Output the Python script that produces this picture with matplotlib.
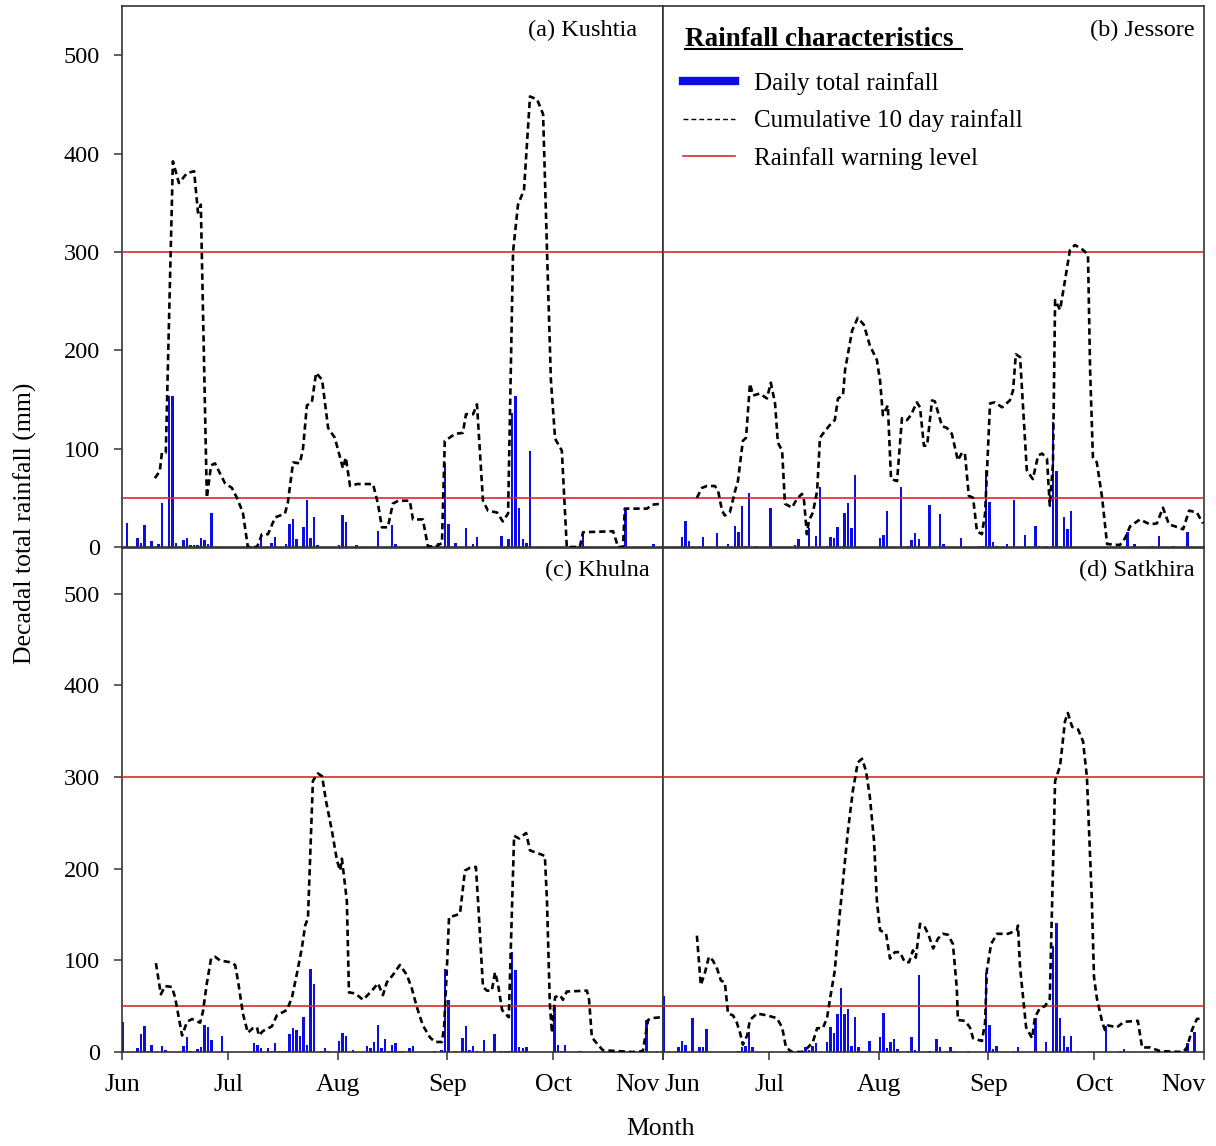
import matplotlib
matplotlib.use("Agg")
import matplotlib.pyplot as plt
from matplotlib.lines import Line2D
from matplotlib.transforms import ScaledTranslation

# days counted from 1 June
month_days = [0, 30, 61, 92, 122, 153]
month_labels = ["Jun", "Jul", "Aug", "Sep", "Oct", "Nov"]
warning_levels = [50, 300]

# (a) Kushtia
kus_bar_day = [1, 4, 5, 6, 8, 10, 11, 13, 14, 15, 17, 18, 19, 20, 21, 22, 23, 24, 25,
               39, 42, 43, 46, 47, 48, 49, 51, 52, 53, 54, 55, 61, 62, 63, 66, 72, 76, 77,
               89, 91, 92, 94, 97, 99, 100, 107, 109, 110, 111, 112, 113, 114, 115,
               130, 142, 150]
kus_bar_mm = [24, 9, 4, 22, 6, 3, 45, 153, 153, 4, 7, 9, 2, 2, 2, 9, 7, 3, 35,
              13, 4, 10, 3, 23, 28, 8, 20, 48, 9, 30, 2, 2, 33, 25, 2, 16, 22, 3,
              4, 85, 23, 4, 19, 3, 10, 11, 8, 136, 153, 40, 8, 4, 98,
              15, 39, 3]
kus_cum_day = [9.3, 10.7, 11.3, 12.4, 14.4, 16.1, 18.4, 20.4, 21.5, 22.3, 24.0, 25.2, 26.3,
               29.1, 31.1, 32.5, 34.2, 35.6, 38.2, 39.6, 41.3, 43.3, 46.1, 46.9, 48.4, 50.3,
               51.2, 52.3, 53.7, 54.9, 56.6, 58.3, 60.2, 62.5, 63.3, 64.5, 66.5, 71.0, 72.4,
               73.5, 75.2, 76.6, 78.1, 81.4, 82.3, 85.1, 86.5, 88.5, 90.5, 91.3, 92.2, 94.2,
               96.4, 97.3, 99.3, 100.4, 102.1, 103.5, 106.1, 107.7, 109.2, 110.6, 112.0,
               113.7, 115.4, 117.4, 119.1, 120.2, 121.3, 122.5, 124.4, 125.8, 129.5, 130.4,
               138.9, 140.3, 141.7, 142.2, 148.5, 149.9, 152.7]
kus_cum_mm = [70, 77, 96, 96, 392, 370, 380, 382, 340, 348, 50, 83, 85,
              65, 60, 50, 35, 0, 0, 13, 13, 30, 34, 45, 86, 85,
              100, 144, 147, 177, 170, 121, 111, 80, 91, 62, 64, 64, 44,
              20, 20, 44, 47, 47, 28, 28, 1, 0, 4, 108, 110, 115,
              116, 135, 135, 145, 47, 37, 35, 26, 34, 300, 348,
              363, 458, 455, 440, 302, 170, 110, 98, 0, 0, 15,
              16, 0, 0, 39, 39, 43, 44]

# (b) Jessore
jes_bar_day = [5, 6, 7, 11, 15, 18, 20, 21, 22, 23, 24, 26, 30, 37, 38, 41, 43, 44, 46, 47,
               48, 49, 51, 52, 53, 54, 61, 62, 63, 67, 69, 70, 71, 72, 75, 78, 79, 84, 89,
               90, 91, 92, 93, 94, 97, 99, 102, 105, 106, 108, 110, 111, 112, 113, 114,
               115, 131, 133, 138, 140, 144, 148]
jes_bar_mm = [10, 26, 6, 10, 14, 3, 21, 15, 42, 1, 55, 0.5, 40, 2, 8, 19, 11, 61, 1, 10,
              9, 20, 35, 45, 19, 73, 9, 12, 37, 61, 0.5, 7, 14, 8, 43, 34, 3, 9, 0.5,
              1, 78, 46, 5, 1, 3, 48, 12, 21, 0.5, 0.5, 127, 77, 0.5, 30, 18,
              37, 15, 3, 0.5, 11, 1, 15]
jes_cum_day = [9.6, 11.0, 12.4, 14.7, 15.6, 16.7, 17.5, 18.9, 20.4, 21.2, 22.6, 23.5, 24.6,
               25.5, 27.4, 29.4, 30.5, 31.7, 32.5, 33.7, 34.5, 36.5, 37.9, 39.3, 39.9, 40.7,
               41.3, 42.4, 43.6, 44.4, 45.2, 47.2, 48.6, 49.5, 50.9, 51.5, 53.5, 55.1, 56.8,
               58.5, 60.5, 61.4, 62.2, 63.6, 64.5, 66.2, 67.6, 69.0, 70.1, 71.8, 72.7, 73.8,
               74.7, 76.1, 76.9, 78.9, 80.3, 81.7, 83.4, 84.6, 85.4, 86.5, 87.7, 88.8, 90.2,
               91.1, 92.5, 93.9, 95.9, 98.1, 99.0, 99.8, 101.0, 102.9, 104.6, 106.1, 107.2,
               108.6, 109.4, 110.3, 110.9, 112.3, 113.7, 115.1, 116.5, 118.8, 120.2, 120.8,
               121.6, 122.7, 124.2, 125.6, 129.2, 130.7, 132.1, 134.9, 137.7, 139.7, 141.4,
               143.1, 144.8, 147.1, 148.8, 151.0, 152.7]
jes_cum_mm = [50, 60, 62, 62, 57, 37, 32, 35, 57, 67, 108, 111, 166,
              154, 156, 151, 167, 146, 106, 98, 44, 40, 49, 54, 47, 13,
              27, 35, 57, 111, 115, 124, 129, 151, 154, 180, 220, 233, 226,
              205, 190, 169, 134, 144, 69, 67, 131, 129, 134, 147, 142, 103,
              103, 149, 148, 123, 121, 115, 88, 96, 95, 52, 50, 16, 13,
              34, 146, 147, 142, 149, 159, 196, 193, 78, 69, 93, 95,
              90, 42, 85, 251, 241, 271, 302, 307, 302, 297, 180,
              91, 86, 50, 3, 2, 9, 21, 28, 23, 24, 40,
              23, 21, 18, 37, 35, 24]

# (c) Khulna
khu_bar_day = [0, 4, 5, 6, 7, 8, 11, 12, 17, 18, 19, 21, 22, 23, 24, 25, 28, 37, 38, 39,
               41, 42, 43, 44, 45, 46, 47, 48, 49, 50, 51, 52, 53, 54, 56, 57, 58, 61, 62,
               63, 65, 69, 70, 71, 72, 73, 74, 75, 76, 77, 78, 79, 81, 82, 88, 90, 91, 92,
               94, 96, 97, 98, 99, 100, 102, 105, 107, 108, 109, 110, 111, 112, 113, 114,
               122, 123, 124, 125, 129, 148, 151]
khu_bar_mm = [33, 4, 20, 28, 1, 8, 7, 2, 7, 16, 1, 3, 6, 29, 27, 13, 18, 10, 8, 4,
              4, 1, 10, 1, 1, 1, 20, 26, 24, 17, 38, 8, 91, 74, 1, 4, 1, 12, 21,
              18, 2, 7, 4, 11, 29, 4, 14, 1, 8, 10, 1, 1, 4, 7, 1, 2, 91, 57,
              1, 15, 28, 2, 7, 1, 13, 20, 1, 1, 1, 109, 89, 6, 4, 6,
              49, 8, 1, 8, 1, 35, 1]
khu_cum_day = [9.6, 11.0, 12.2, 14.1, 15.0, 17.0, 18.4, 19.8, 22.1, 22.9, 24.0, 25.2, 26.3,
               27.7, 30.5, 32.0, 32.8, 34.2, 35.6, 37.0, 38.2, 38.7, 39.9, 42.4, 43.8, 46.7,
               48.1, 49.5, 50.9, 51.8, 52.6, 54.0, 55.4, 56.6, 57.7, 59.4, 60.8, 61.7, 62.2,
               63.6, 64.2, 65.9, 68.2, 70.7, 72.4, 73.8, 74.9, 76.6, 78.6, 80.6, 82.0, 83.4,
               85.1, 87.1, 88.5, 90.5, 91.1, 91.9, 92.5, 94.2, 95.6, 97.0, 98.4, 100.1, 100.7,
               102.1, 103.2, 104.6, 105.5, 106.3, 107.5, 108.3, 109.4, 110.9, 112.3, 114.3,
               115.4, 117.6, 119.6, 120.2, 121.0, 121.6, 121.9, 122.5, 123.9, 124.7, 125.8,
               131.5, 132.1, 132.9, 134.6, 136.0, 144.5, 147.3, 148.8, 149.9, 152.7]
khu_cum_mm = [97, 63, 72, 71, 60, 18, 33, 36, 32, 44, 75, 102, 104,
              100, 98, 95, 78, 42, 21, 26, 27, 18, 23, 28, 40, 46,
              60, 86, 114, 138, 146, 296, 304, 301, 274, 241, 209, 198, 211,
              165, 65, 64, 57, 67, 75, 62, 76, 84, 95, 84, 69, 49,
              29, 16, 11, 11, 27, 92, 147, 149, 151, 198, 201, 202, 165,
              71, 67, 67, 87, 75, 46, 42, 38, 236, 233, 239,
              220, 217, 214, 165, 53, 21, 35, 60, 62, 57, 66,
              67, 57, 16, 8, 2, 0, 1, 35, 37, 38]

# (d) Satkhira
sat_bar_day = [0, 4, 5, 6, 8, 10, 11, 12, 18, 21, 22, 23, 24, 25, 40, 41, 42, 43, 46, 47,
               48, 49, 50, 51, 52, 53, 54, 55, 56, 58, 61, 62, 63, 64, 65, 66, 69, 70, 71,
               72, 75, 77, 78, 80, 81, 82, 86, 91, 92, 93, 94, 99, 100, 105, 108, 110, 111,
               112, 113, 114, 115, 117, 125, 129, 130, 148, 150]
sat_bar_mm = [61, 6, 12, 8, 37, 6, 6, 25, 0.5, 1, 6, 7, 22, 6, 6, 2, 7, 10, 11, 27,
              21, 42, 70, 42, 47, 7, 38, 6, 1, 12, 16, 43, 4, 11, 14, 3, 1, 16, 2,
              84, 1, 14, 6, 1, 6, 1, 1, 86, 29, 3, 7, 1, 6, 37, 11, 116, 141,
              37, 18, 6, 18, 1, 28, 1, 3, 10, 22]
sat_cum_day = [9.6, 10.7, 11.9, 13.0, 14.1, 15.3, 16.4, 17.5, 18.4, 19.8, 20.9, 21.8, 22.6,
               23.8, 24.6, 26.6, 29.4, 32.2, 33.7, 34.8, 36.5, 39.3, 41.0, 42.4, 43.6, 45.2,
               46.4, 47.2, 48.6, 49.8, 52.3, 53.7, 55.1, 56.3, 57.4, 58.5, 59.7, 60.5, 61.4,
               63.1, 64.2, 65.6, 67.0, 68.4, 69.6, 70.7, 71.5, 72.7, 74.1, 75.2, 76.4, 77.8,
               79.2, 80.6, 82.0, 83.1, 83.4, 85.4, 86.8, 87.7, 90.2, 91.1, 91.6, 92.8, 94.5,
               97.6, 100.1, 100.4, 101.0, 102.7, 104.4, 105.2, 106.6, 108.0, 109.4, 110.9,
               112.3, 113.7, 114.5, 115.7, 117.4, 118.8, 119.9, 121.3, 121.9, 122.7, 124.2,
               125.0, 125.9, 128.4, 130.4, 134.3, 135.5, 137.7, 140.6, 147.1, 148.2, 149.6,
               151.0, 152.4]
sat_cum_mm = [127, 73, 87, 104, 100, 91, 78, 76, 42, 40, 32, 21, 8,
              18, 35, 42, 40, 37, 27, 5, 0, 0, 5, 11, 26, 26,
              37, 57, 89, 143, 241, 285, 316, 320, 307, 279, 230, 165, 133,
              129, 102, 109, 109, 98, 98, 111, 103, 140, 136, 127, 113, 124,
              129, 128, 118, 70, 35, 34, 27, 15, 12, 32, 89, 118, 129,
              129, 133, 138, 92, 27, 15, 38, 48, 50, 58, 296,
              312, 361, 370, 355, 352, 339, 300, 165, 82, 59, 33,
              24, 29, 27, 33, 34, 5, 5, 1, 0, 5, 24,
              36, 37]

BAR_COLOR = "#0c0ce6"
WARN_COLOR = "#d42c2c"
SPINE_COLOR = "#333333"


def nudge(label, dx_px, fig):
    label.set_transform(label.get_transform()
                        + ScaledTranslation(dx_px / 100, 0, fig.dpi_scale_trans))


def draw_panel(fig, ax, bar_day, bar_mm, cum_day, cum_mm, title, title_x, left_col, bottom_row):
    ax.bar(bar_day, bar_mm, width=0.7, align="edge", color=BAR_COLOR, linewidth=0, zorder=2)
    for lvl in warning_levels:
        ax.axhline(lvl, color=WARN_COLOR, linewidth=1.2, zorder=3)
    ax.plot(cum_day, cum_mm, color="black", linewidth=1.9,
            linestyle=(0, (2.4, 1.5)), zorder=4)

    ax.set_xlim(0, 153)
    ax.set_ylim(0, 550)
    ax.set_xticks(month_days)
    ax.set_yticks([0, 100, 200, 300, 400, 500])

    for s in ax.spines.values():
        s.set_color(SPINE_COLOR)
        s.set_linewidth(1.2)

    ax.tick_params(direction="out", length=6, width=1.1, colors=SPINE_COLOR,
                   labelcolor="black", labelsize=17.5)
    ax.tick_params(axis="y", pad=10)
    ax.tick_params(axis="x", pad=10, labelsize=18.5)

    if not left_col:
        ax.tick_params(axis="y", left=False, labelleft=False)
    if bottom_row:
        labels = ax.set_xticklabels(month_labels)
        labels[-1].set_ha("right")
        if left_col:
            nudge(labels[-1], -3, fig)
        else:
            labels[0].set_ha("left")
            nudge(labels[0], 2, fig)
            nudge(labels[-1], 2, fig)
    else:
        ax.tick_params(axis="x", bottom=False, labelbottom=False)

    ax.text(title_x, 0.955, title, transform=ax.transAxes, ha="right", va="center",
            fontsize=17.5)


def main():
    plt.rcParams["font.family"] = ["Liberation Serif", "DejaVu Serif"]

    fig = plt.figure(figsize=(12.16, 11.46), dpi=100)
    fig.patch.set_facecolor("white")

    ax_a = fig.add_axes([0.1003, 0.5227, 0.4449, 0.4721])
    ax_b = fig.add_axes([0.5452, 0.5227, 0.4449, 0.4721])
    ax_c = fig.add_axes([0.1003, 0.0820, 0.4449, 0.4398])
    ax_d = fig.add_axes([0.5452, 0.0820, 0.4449, 0.4398])

    draw_panel(fig, ax_a, kus_bar_day, kus_bar_mm, kus_cum_day, kus_cum_mm,
               "(a) Kushtia", 0.952, True, False)
    draw_panel(fig, ax_b, jes_bar_day, jes_bar_mm, jes_cum_day, jes_cum_mm,
               "(b) Jessore", 0.983, False, False)
    draw_panel(fig, ax_c, khu_bar_day, khu_bar_mm, khu_cum_day, khu_cum_mm,
               "(c) Khulna", 0.976, True, True)
    draw_panel(fig, ax_d, sat_bar_day, sat_bar_mm, sat_cum_day, sat_cum_mm,
               "(d) Satkhira", 0.983, False, True)

    # legend in panel (b)
    ax_b.text(0.040, 0.938, "Rainfall characteristics ", transform=ax_b.transAxes,
              ha="left", va="center", fontsize=19.5, fontweight="bold")
    ax_b.plot([0.040, 0.553], [0.921, 0.921], transform=ax_b.transAxes,
              color="black", linewidth=1.5, clip_on=False)
    handles = [
        Line2D([], [], color=BAR_COLOR, linewidth=6),
        Line2D([], [], color="black", linewidth=1.0, linestyle=(0, (3.5, 2.2))),
        Line2D([], [], color=WARN_COLOR, linewidth=1.2),
    ]
    ax_b.legend(handles, ["Daily total rainfall", "Cumulative 10 day rainfall",
                          "Rainfall warning level"],
                loc="upper left", bbox_to_anchor=(0.037, 0.878), frameon=False,
                fontsize=18, handlelength=2.1, handletextpad=0.75,
                labelspacing=0.58, borderpad=0, borderaxespad=0)

    fig.text(25 / 1216, 1 - 523 / 1146, "Decadal total rainfall (mm)", rotation=90,
             ha="center", va="center", fontsize=18.5)
    fig.text(0.543, 1 - 1129 / 1146, "Month", ha="center", va="center", fontsize=18.5)

    fig.savefig("out.png", dpi=100, facecolor="white")


if __name__ == "__main__":
    main()
